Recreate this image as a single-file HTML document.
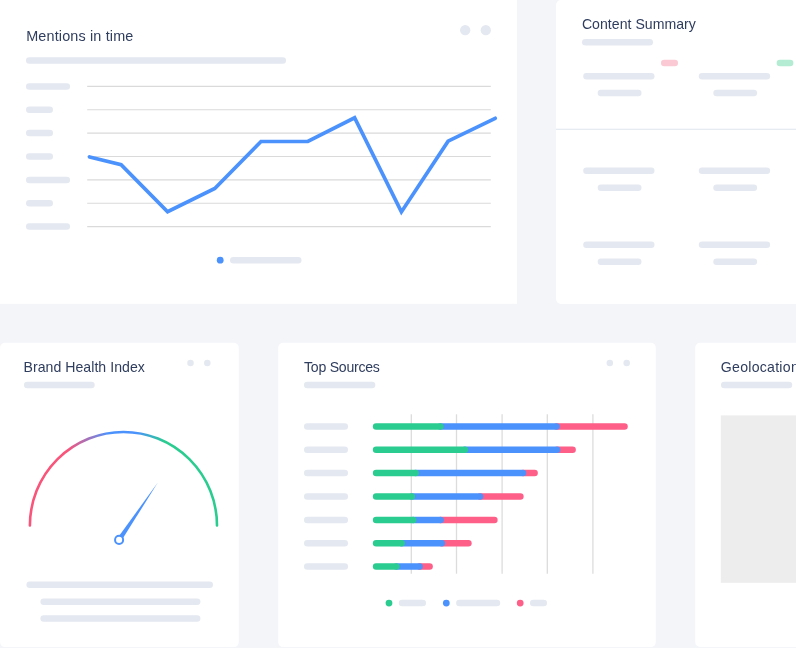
<!DOCTYPE html>
<html lang="en">
<head>
<meta charset="utf-8">
<title>Dashboard</title>
<style>
  html, body { margin: 0; padding: 0; }
  body {
    width: 796px; height: 648px; overflow: hidden; position: relative;
    background: #f3f5f9;
    font-family: "Liberation Sans", sans-serif;
    color: #2f3d5e;
  }
  .t { position: absolute; white-space: nowrap; font-size: 13.5px; line-height: 16px; color: #2f3d5e; z-index: 2; }
  svg { position: absolute; left: 0; top: 0; }
</style>
</head>
<body>

<svg width="796" height="648" viewBox="0 0 796 648">
  <defs>
    <linearGradient id="gg" gradientUnits="userSpaceOnUse" x1="30" y1="0" x2="217" y2="0">
      <stop offset="0" stop-color="#f9547a"/>
      <stop offset="0.2" stop-color="#f9547a"/>
      <stop offset="0.42" stop-color="#4b92fd"/>
      <stop offset="0.57" stop-color="#4b92fd"/>
      <stop offset="0.72" stop-color="#2bcc90"/>
      <stop offset="1" stop-color="#2bcc90"/>
    </linearGradient>
  </defs>

  <!-- cards -->
  <g fill="#ffffff">
    <rect x="-10" y="-10" width="527" height="313.9"/>
    <rect x="556" y="0.1" width="300" height="303.9" rx="5"/>
    <rect x="0" y="342.85" width="238.8" height="304.25" rx="5"/>
    <rect x="278.2" y="342.85" width="377.6" height="304.25" rx="5"/>
    <rect x="695.2" y="342.85" width="200" height="304.15" rx="5"/>
  </g>
  <rect x="556" y="128.7" width="240" height="1.2" fill="#e4e8f0"/>
  <rect x="720.8" y="415.4" width="90" height="167.4" fill="#ededed"/>

  <!-- placeholder pills and dots -->
  <g fill="#e4e8f0">
    <circle cx="465.20" cy="30.20" r="5.15"/>
    <circle cx="485.80" cy="30.20" r="5.15"/>
    <rect x="26.00" y="57.30" width="260.00" height="6.50" rx="3.25"/>
    <rect x="26.00" y="83.15" width="44.00" height="6.50" rx="3.25"/>
    <rect x="26.00" y="106.55" width="27.00" height="6.50" rx="3.25"/>
    <rect x="26.00" y="129.85" width="27.00" height="6.50" rx="3.25"/>
    <rect x="26.00" y="153.25" width="27.00" height="6.50" rx="3.25"/>
    <rect x="26.00" y="176.65" width="44.00" height="6.50" rx="3.25"/>
    <rect x="26.00" y="199.95" width="27.00" height="6.50" rx="3.25"/>
    <rect x="26.00" y="223.35" width="44.00" height="6.50" rx="3.25"/>
    <circle cx="220.20" cy="260.20" r="3.40" fill="#4b92fd"/>
    <rect x="230.00" y="257.00" width="71.50" height="6.50" rx="3.25"/>
    <rect x="582.00" y="39.00" width="71.00" height="6.50" rx="3.25"/>
    <rect x="661.00" y="59.80" width="17.00" height="6.50" rx="3.25" fill="#fbc9d4"/>
    <rect x="776.60" y="59.80" width="16.80" height="6.50" rx="3.25" fill="#b4ebd3"/>
    <rect x="583.20" y="72.90" width="71.30" height="6.50" rx="3.25"/>
    <rect x="597.70" y="89.70" width="43.80" height="6.50" rx="3.25"/>
    <rect x="698.80" y="72.90" width="71.30" height="6.50" rx="3.25"/>
    <rect x="713.30" y="89.70" width="43.80" height="6.50" rx="3.25"/>
    <rect x="583.20" y="167.60" width="71.30" height="6.50" rx="3.25"/>
    <rect x="597.70" y="184.40" width="43.80" height="6.50" rx="3.25"/>
    <rect x="698.80" y="167.60" width="71.30" height="6.50" rx="3.25"/>
    <rect x="713.30" y="184.40" width="43.80" height="6.50" rx="3.25"/>
    <rect x="583.20" y="241.60" width="71.30" height="6.50" rx="3.25"/>
    <rect x="597.70" y="258.40" width="43.80" height="6.50" rx="3.25"/>
    <rect x="698.80" y="241.60" width="71.30" height="6.50" rx="3.25"/>
    <rect x="713.30" y="258.40" width="43.80" height="6.50" rx="3.25"/>
    <circle cx="190.50" cy="363.00" r="3.25"/>
    <circle cx="207.30" cy="363.00" r="3.25"/>
    <rect x="24.00" y="381.80" width="70.70" height="6.50" rx="3.25"/>
    <rect x="26.40" y="581.40" width="186.60" height="6.50" rx="3.25"/>
    <rect x="40.40" y="598.40" width="160.00" height="6.50" rx="3.25"/>
    <rect x="40.40" y="615.30" width="160.00" height="6.50" rx="3.25"/>
    <circle cx="609.80" cy="362.90" r="3.25"/>
    <circle cx="626.70" cy="362.90" r="3.25"/>
    <rect x="304.00" y="381.80" width="71.30" height="6.50" rx="3.25"/>
    <rect x="304.00" y="423.15" width="44.00" height="6.50" rx="3.25"/>
    <rect x="304.00" y="446.45" width="44.00" height="6.50" rx="3.25"/>
    <rect x="304.00" y="469.85" width="44.00" height="6.50" rx="3.25"/>
    <rect x="304.00" y="493.25" width="44.00" height="6.50" rx="3.25"/>
    <rect x="304.00" y="516.65" width="44.00" height="6.50" rx="3.25"/>
    <rect x="304.00" y="539.95" width="44.00" height="6.50" rx="3.25"/>
    <rect x="304.00" y="563.35" width="44.00" height="6.50" rx="3.25"/>
    <circle cx="389.00" cy="603.10" r="3.40" fill="#2bcc90"/>
    <rect x="398.80" y="599.85" width="27.20" height="6.50" rx="3.25"/>
    <circle cx="446.30" cy="603.10" r="3.40" fill="#4b92fd"/>
    <rect x="456.10" y="599.85" width="44.10" height="6.50" rx="3.25"/>
    <circle cx="520.20" cy="603.10" r="3.40" fill="#fd5f88"/>
    <rect x="530.00" y="599.85" width="17.00" height="6.50" rx="3.25"/>
    <rect x="721.00" y="381.80" width="71.20" height="6.50" rx="3.25"/>
  </g>

  <!-- line chart -->
  <g stroke="#dadada" stroke-width="1.1">
    <line x1="87.2" x2="490.8" y1="86.4" y2="86.4"/>
    <line x1="87.2" x2="490.8" y1="109.8" y2="109.8"/>
    <line x1="87.2" x2="490.8" y1="133.1" y2="133.1"/>
    <line x1="87.2" x2="490.8" y1="156.5" y2="156.5"/>
    <line x1="87.2" x2="490.8" y1="179.9" y2="179.9"/>
    <line x1="87.2" x2="490.8" y1="203.2" y2="203.2"/>
    <line x1="87.2" x2="490.8" y1="226.6" y2="226.6"/>
  </g>
  <polyline fill="none" stroke="#4b92fd" stroke-width="3.7" stroke-linecap="round" stroke-linejoin="miter"
    points="89.6,157 121.1,164.6 167.6,211.7 214.8,188.5 261,141.5 307.8,141.5 354.6,117.8 401.4,211.9 448.1,141.2 495.2,118.3"/>

  <!-- gauge -->
  <path d="M 29.9 525.5 A 93.55 93.55 0 0 1 217 525.5" fill="none" stroke="url(#gg)" stroke-width="2.6" stroke-linecap="round"/>
  <polygon points="158,482.3 122.9,538.2 119.2,535.8" fill="#4b92fd"/>
  <circle cx="119.1" cy="539.9" r="4.05" fill="#fff" stroke="#4b92fd" stroke-width="2"/>

  <!-- bar chart -->
  <g stroke="#dcdcdc" stroke-width="1.3">
    <line x1="411.3" x2="411.3" y1="414.3" y2="573.7"/>
    <line x1="456.5" x2="456.5" y1="414.3" y2="573.7"/>
    <line x1="502.1" x2="502.1" y1="414.3" y2="573.7"/>
    <line x1="547.3" x2="547.3" y1="414.3" y2="573.7"/>
    <line x1="592.9" x2="592.9" y1="414.3" y2="573.7"/>
  </g>
  <g fill="none" stroke-width="6.5" stroke-linecap="round">
    <g stroke="#fd5f88">
      <line x1="556.5" x2="624.5" y1="426.4" y2="426.4"/>
      <line x1="557.1" x2="572.6" y1="449.7" y2="449.7"/>
      <line x1="523.0" x2="534.6" y1="473.1" y2="473.1"/>
      <line x1="480.1" x2="520.4" y1="496.5" y2="496.5"/>
      <line x1="440.6" x2="494.4" y1="519.9" y2="519.9"/>
      <line x1="441.8" x2="468.4" y1="543.2" y2="543.2"/>
      <line x1="419.6" x2="429.6" y1="566.6" y2="566.6"/>
    </g>
    <g stroke="#4b92fd">
      <line x1="440.4" x2="556.5" y1="426.4" y2="426.4"/>
      <line x1="464.9" x2="557.1" y1="449.7" y2="449.7"/>
      <line x1="415.6" x2="523.0" y1="473.1" y2="473.1"/>
      <line x1="411.8" x2="480.1" y1="496.5" y2="496.5"/>
      <line x1="413.2" x2="440.6" y1="519.9" y2="519.9"/>
      <line x1="401.6" x2="441.8" y1="543.2" y2="543.2"/>
      <line x1="396.4" x2="419.6" y1="566.6" y2="566.6"/>
    </g>
    <g stroke="#2bcc90">
      <line x1="376.1" x2="440.4" y1="426.4" y2="426.4"/>
      <line x1="376.1" x2="464.9" y1="449.7" y2="449.7"/>
      <line x1="376.1" x2="415.6" y1="473.1" y2="473.1"/>
      <line x1="376.1" x2="411.8" y1="496.5" y2="496.5"/>
      <line x1="376.1" x2="413.2" y1="519.9" y2="519.9"/>
      <line x1="376.1" x2="401.6" y1="543.2" y2="543.2"/>
      <line x1="376.1" x2="396.4" y1="566.6" y2="566.6"/>
    </g>
  </g>
</svg>

<div class="t" style="left:26.2px;top:27.9px;font-size:14.4px;letter-spacing:0.16px;">Mentions in time</div>
<div class="t" style="left:581.9px;top:16.1px;font-size:14.1px;letter-spacing:0.03px;">Content Summary</div>
<div class="t" style="left:23.5px;top:358.9px;font-size:14.1px;letter-spacing:0.04px;">Brand Health Index</div>
<div class="t" style="left:304px;top:358.9px;font-size:14.1px;letter-spacing:-0.25px;">Top Sources</div>
<div class="t" style="left:720.8px;top:358.9px;font-size:14.1px;letter-spacing:0.27px;">Geolocation</div>

</body>
</html>
